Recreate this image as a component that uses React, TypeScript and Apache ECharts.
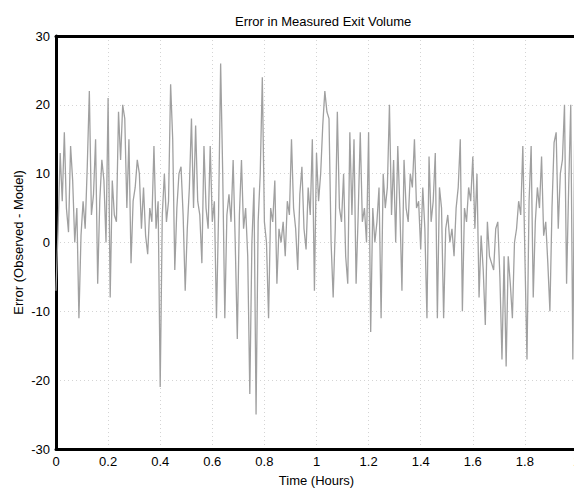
import React, { useEffect, useRef } from "react";
import * as echarts from "echarts";

const title = "Error in Measured Exit Volume";
const xName = "Time (Hours)";
const yName = "Error (Observed - Model)";
const sampleHours = 0.008; // sampling interval of the record
const errorValues = [
  -7, 2, 13, 6, 16, 5, 1.5, 14, 9, 0,
  5, -11, 1, 6, 2, 11, 22, 4, 7, 15,
  -6, 6, 12, 9, 0, 21, -8, 9, 4, 3,
  19, 12, 20, 18, 5, 15, -3, 6, 8, 12,
  10, 2, 8, 1, -1.7, 5, 3, 14, 2, 6,
  -21, 4, 10, 3, 6, 23, 15, -4, 5, 10,
  11, 4, -7, 2, 8, 18, 5, 17, 6, 4,
  -3, 14, 5, 2, 14, 3, 6, -11, 4, 26,
  10, -11, 4, 7, 3, 12, 0, -14, 4, 12,
  2, 5, -2, -22, 0, 8, -25, 3, 10, 24,
  3, 0, -11, 5, 3, 9, -6, 2, 0, 3,
  -2, 6, 4, 15, 5, 2, -4, 7, 11, 2,
  -1, 8, 4, 15, -7, 13, 6, 10, 17, 22,
  19, 18, 0, -8, 2, 19, 5, 3, 10, -2,
  -6, 16, 4, 15, -6, 4, 16, 3, 5, 0,
  16, -13, 5, 0, 3, 8, -11, 10, 5, 8,
  20, 4, 12, 0, 14, 5, -7, 12, 5, 3,
  10, 8, 15, 5, 6, -1, 8, 2, -11, 12.5,
  3, 6, 13, -11, 8, 5, -11, 2, 4, 0,
  2, -2, 5, 8, 15, -10, 5, 3, 8, 6,
  12.5, 2, 10, -8, 1, -4, -12, 3, -2, -3,
  -4, 2, 3, -5, -17, -2, -18, -2, -6, -11,
  0, 2, 6, 4, 14, -2, -17, 6, 14, -8,
  3, 8, 5, 12.5, 1, 3, -3, -10, 5, 14.5,
  16, 2, 10, 12, 20, -6, 8, 20, -17, 20,
  10,
];

const FONT = "'Liberation Sans', Arial, Helvetica, sans-serif";

export default function App() {
  const ref = useRef<HTMLDivElement>(null);
  useEffect(() => {
    if (!ref.current) return;
    const chart = echarts.init(ref.current, undefined, { renderer: "svg" });
    const data = errorValues.map((v, i) => [+(i * sampleHours).toFixed(3), v]);
    chart.setOption({
      animation: false,
      backgroundColor: "#fff",
      textStyle: { fontFamily: FONT },
      title: {
        text: title,
        left: 230,
        top: 10,
        textStyle: { fontSize: 13, fontWeight: "normal", color: "#000", fontFamily: FONT },
      },
      grid: {
        left: 56,
        top: 36,
        width: 521,
        height: 413,
        outerBoundsMode: "none",
        containLabel: false,
        show: false,
      },
      xAxis: [
        {
          type: "value",
          min: 0,
          max: 2,
          interval: 0.2,
          name: xName,
          nameLocation: "middle",
          nameGap: 25,
          nameMoveOverlap: false,
          nameTextStyle: { fontSize: 13, color: "#000", fontFamily: FONT },
          axisLine: { show: true, onZero: false, lineStyle: { color: "#000", width: 3 } },
          axisTick: { show: false },
          axisLabel: {
            color: "#000",
            fontSize: 13,
            margin: 6,
            fontFamily: FONT,
            hideOverlap: false,
            formatter: (v: number) => String(Math.round(v * 10) / 10),
          },
          splitLine: {
            show: true,
            showMinLine: false,
            showMaxLine: false,
            lineStyle: { type: [1, 3], color: "#d4d4d4", width: 1 },
          },
        },
        {
          type: "value",
          position: "top",
          min: 0,
          max: 2,
          interval: 0.2,
          axisLine: { show: true, onZero: false, lineStyle: { color: "#000", width: 3 } },
          axisTick: { show: false },
          axisLabel: { show: false },
          splitLine: { show: false },
        },
      ],
      yAxis: {
        type: "value",
        min: -30,
        max: 30,
        interval: 10,
        name: yName,
        nameLocation: "middle",
        nameGap: 31,
        nameMoveOverlap: false,
        nameTextStyle: { fontSize: 13, color: "#000", fontFamily: FONT },
        axisLine: { show: true, lineStyle: { color: "#000", width: 3 } },
        axisTick: { show: false },
        axisLabel: { color: "#000", fontSize: 13, margin: 6, fontFamily: FONT },
        splitLine: {
          show: true,
          showMinLine: false,
          showMaxLine: false,
          lineStyle: { type: [1, 3], color: "#d4d4d4", width: 1 },
        },
      },
      series: [
        {
          type: "line",
          data,
          showSymbol: false,
          symbol: "none",
          lineStyle: { color: "#a0a0a0", width: 1.3 },
          z: 1,
        },
      ],
    });
    return () => chart.dispose();
  }, []);
  return <div ref={ref} style={{ width: 574, height: 494, position: "absolute", left: 0, top: 0 }} />;
}
